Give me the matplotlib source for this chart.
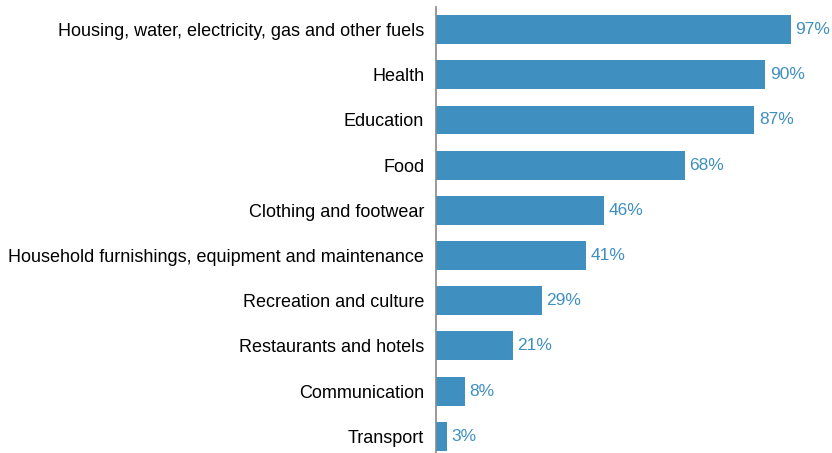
import matplotlib.pyplot as plt

# share of spending categories
categories = ["Housing, water, electricity, gas and other fuels", "Health", "Education",
              "Food", "Clothing and footwear",
              "Household furnishings, equipment and maintenance",
              "Recreation and culture", "Restaurants and hotels",
              "Communication", "Transport"]
values = [97, 90, 87, 68, 46, 41, 29, 21, 8, 3]

bar_color = "#3f8fc0"

plt.rcParams['font.family'] = ['Liberation Sans', 'DejaVu Sans']

fig = plt.figure(figsize=(8.32, 4.53), dpi=100)
ax = fig.add_axes([436 / 832, 0, 396 / 832, 446 / 453])

y = list(range(len(categories)))
ax.barh(y, values, height=0.64, color=bar_color)

for yi, v in zip(y, values):
    ax.text(v + 1.2, yi, f"{v}%", va="center", ha="left",
            fontsize=12.5, color=bar_color)

ax.set_yticks(y)
ax.set_yticklabels(categories, fontsize=13)
ax.tick_params(axis="y", length=0, pad=8.5)
ax.set_xticks([])
ax.set_xlim(0, 108.2)
ax.set_ylim(9.37, -0.5)

for s in ["top", "right", "bottom"]:
    ax.spines[s].set_visible(False)
ax.spines["left"].set_color("#888888")
ax.spines["left"].set_linewidth(1.2)

fig.savefig("out.png", dpi=100)
